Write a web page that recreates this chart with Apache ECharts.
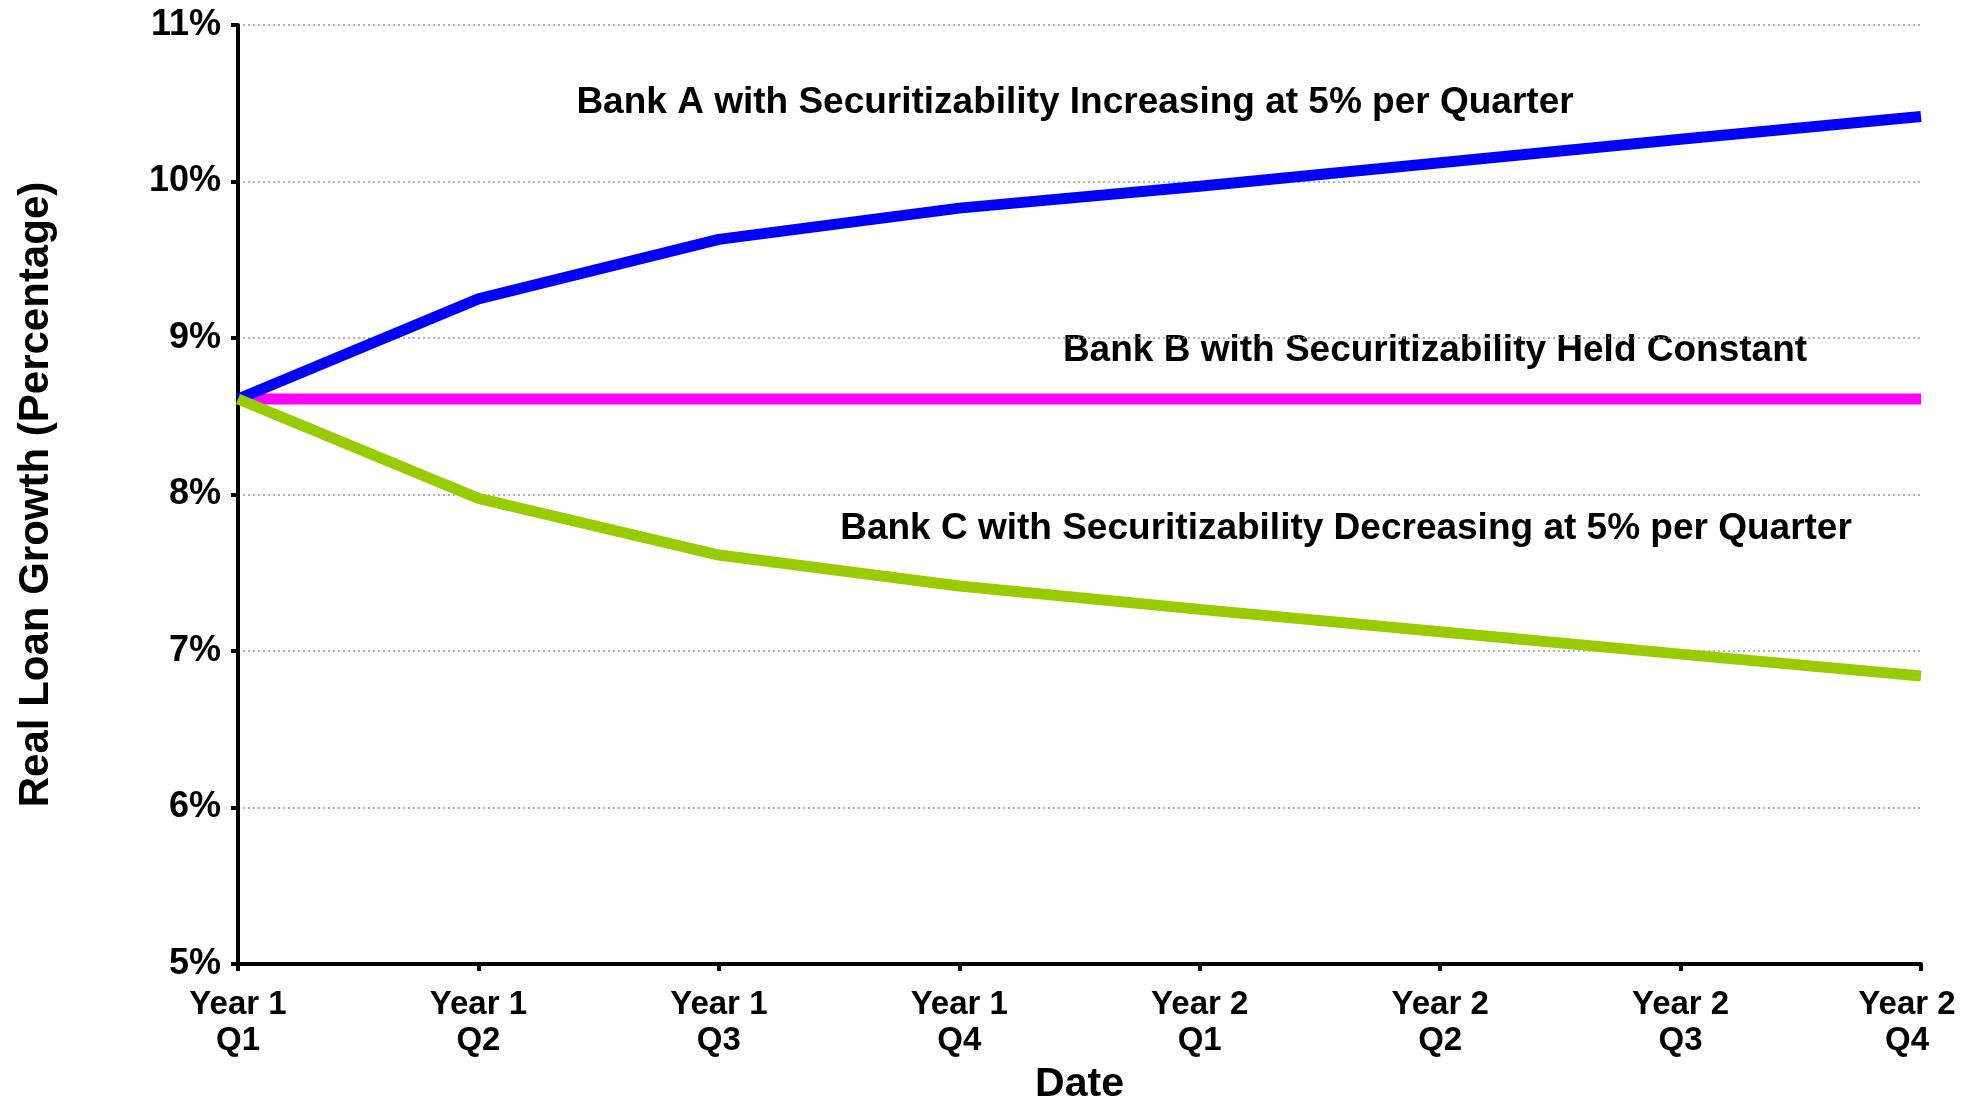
<!DOCTYPE html>
<html>
<head>
<meta charset="utf-8">
<script src="https://cdn.jsdelivr.net/npm/echarts@6/dist/echarts.min.js"></script>
<style>
html,body{margin:0;padding:0;background:#fff;}
#chart{width:1974px;height:1098px;}
</style>
</head>
<body>
<div id="chart"></div>
<script>
const categories = ['Year 1\nQ1','Year 1\nQ2','Year 1\nQ3','Year 1\nQ4','Year 2\nQ1','Year 2\nQ2','Year 2\nQ3','Year 2\nQ4'];
const bankA = [8.61, 9.25, 9.63, 9.83, 9.97, 10.12, 10.27, 10.415];
const bankB = [8.61, 8.61, 8.61, 8.61, 8.61, 8.61, 8.61, 8.61];
const bankC = [8.61, 7.975, 7.613, 7.415, 7.266, 7.123, 6.98, 6.84];
const annotations = [
  'Bank A with Securitizability Increasing at 5% per Quarter',
  'Bank B with Securitizability Held Constant',
  'Bank C with Securitizability Decreasing at 5% per Quarter'
];

const FONT = '"Liberation Sans", Arial, sans-serif';
const catData = categories.map((c, i) =>
  i === categories.length - 1 ? { value: c, textStyle: { padding: [0, 28, 0, 0] } } : c
);
const chart = echarts.init(document.getElementById('chart'));
chart.setOption({
  animation: false,
  backgroundColor: '#ffffff',
  grid: { left: 238, right: 53, top: 25, bottom: 134, containLabel: false, outerBoundsMode: 'none' },
  xAxis: {
    type: 'category',
    data: catData,
    boundaryGap: false,
    name: 'Date',
    nameLocation: 'middle',
    nameGap: 95,
    nameTextStyle: { fontFamily: FONT, fontWeight: 'bold', fontSize: 41, color: '#000' },
    axisLine: { lineStyle: { color: '#000', width: 4 } },
    axisTick: { show: true, length: 7, lineStyle: { color: '#000', width: 4 }, alignWithLabel: true },
    axisLabel: { fontFamily: FONT, fontWeight: 'bold', fontSize: 33, color: '#000', lineHeight: 36, margin: 23, interval: 0 },
    splitLine: { show: false }
  },
  yAxis: {
    type: 'value',
    min: 5, max: 11, interval: 1,
    name: 'Real Loan Growth (Percentage)',
    nameLocation: 'middle',
    nameGap: 181,
    nameTextStyle: { fontFamily: FONT, fontWeight: 'bold', fontSize: 42, color: '#000' },
    axisLine: { show: true, lineStyle: { color: '#000', width: 4 } },
    axisTick: { show: true, length: 7, lineStyle: { color: '#000', width: 4 } },
    axisLabel: { fontFamily: FONT, fontWeight: 'bold', fontSize: 36, color: '#000', margin: 17, formatter: '{value}%' },
    splitLine: { show: true, lineStyle: { color: '#999', width: 1.5, type: [2, 3] } }
  },
  series: [
    { name: 'Bank B', type: 'line', data: bankB, symbol: 'none', lineStyle: { color: '#FF00FF', width: 11 }, z: 2 },
    { name: 'Bank A', type: 'line', data: bankA, symbol: 'none', lineStyle: { color: '#0000FF', width: 11 }, z: 3 },
    { name: 'Bank C', type: 'line', data: bankC, symbol: 'none', lineStyle: { color: '#99CC00', width: 11 }, z: 4 }
  ],
  graphic: [
    { type: 'text', x: 1075, y: 103, style: { text: annotations[0], font: 'bold 37px ' + FONT, fill: '#000', textAlign: 'center', textVerticalAlign: 'middle' } },
    { type: 'text', x: 1435, y: 351, style: { text: annotations[1], font: 'bold 37px ' + FONT, fill: '#000', textAlign: 'center', textVerticalAlign: 'middle' } },
    { type: 'text', x: 1346, y: 529, style: { text: annotations[2], font: 'bold 37px ' + FONT, fill: '#000', textAlign: 'center', textVerticalAlign: 'middle' } }
  ]
});
</script>
</body>
</html>
